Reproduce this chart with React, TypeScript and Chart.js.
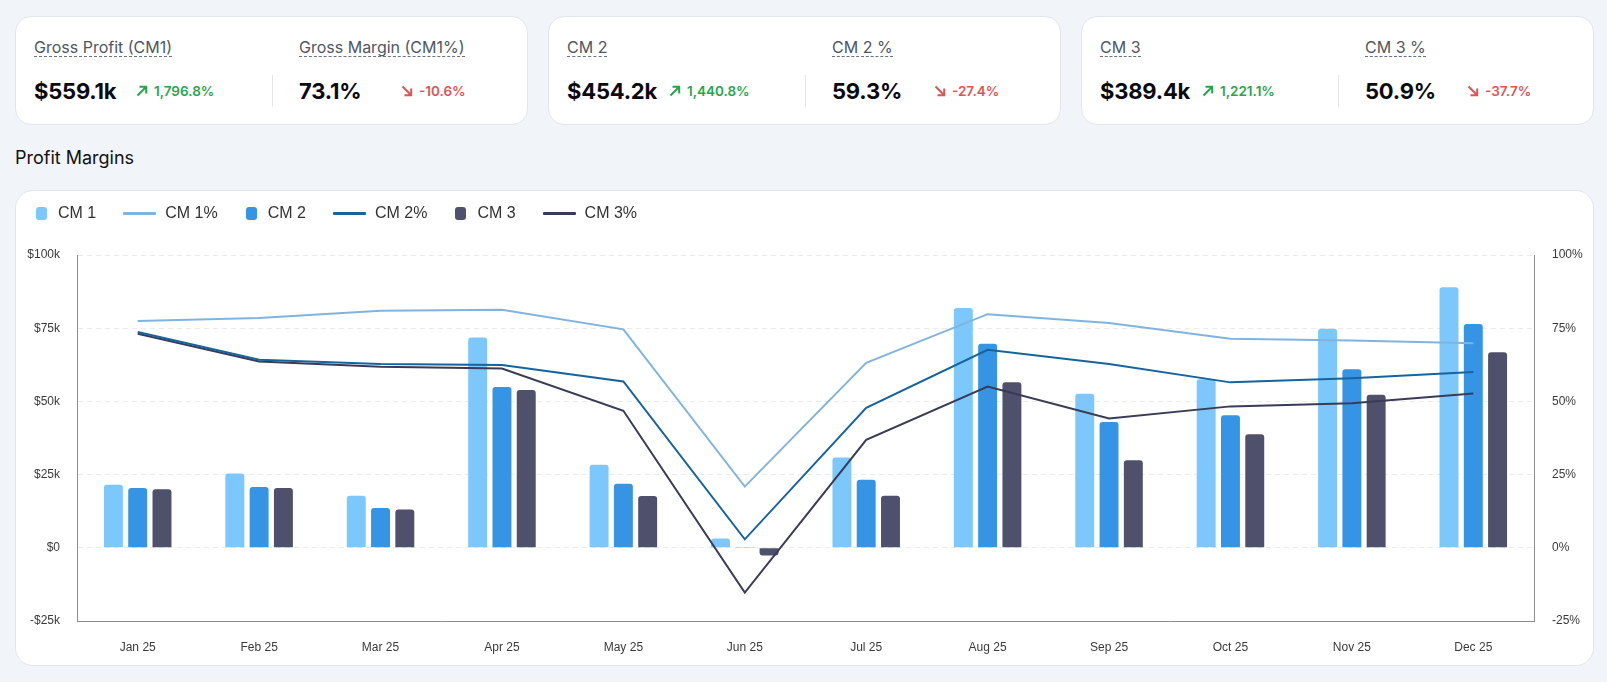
import React, { useEffect, useRef } from "react";
import { Chart, registerables } from "chart.js";

Chart.register(...registerables);

// ---------- data ----------
const months = ["Jan 25", "Feb 25", "Mar 25", "Apr 25", "May 25", "Jun 25", "Jul 25", "Aug 25", "Sep 25", "Oct 25", "Nov 25", "Dec 25"];
const cm1Values = [21500, 25400, 17800, 71800, 28400, 3200, 30800, 81900, 52600, 57600, 74800, 89000];
const cm2Values = [20400, 20800, 13600, 54900, 21900, 300, 23200, 69700, 43000, 45300, 61000, 76400];
const cm3Values = [20000, 20400, 13100, 53900, 17700, -2600, 17800, 56500, 29900, 38800, 52300, 66800];
const cm1Pct = [77.5, 78.5, 81.0, 81.3, 74.6, 20.9, 63.2, 79.8, 76.8, 71.4, 70.8, 69.9];
const cm2Pct = [73.7, 64.2, 62.8, 62.4, 56.8, 2.9, 47.8, 67.6, 62.8, 56.5, 57.9, 60.0];
const cm3Pct = [73.1, 63.6, 61.8, 61.2, 46.8, -15.3, 36.9, 55.1, 44.2, 48.3, 49.4, 52.7];

const seriesNames = ["CM 1", "CM 1%", "CM 2", "CM 2%", "CM 3", "CM 3%"];
const seriesTypes = ["bar", "line", "bar", "line", "bar", "line"];
const seriesColors = ["#7cc7fb", "#80b4de", "#3594e3", "#15639f", "#4f506b", "#393b57"];

const kpiLabels = [
  ["Gross Profit (CM1)", "Gross Margin (CM1%)"],
  ["CM 2", "CM 2 %"],
  ["CM 3", "CM 3 %"],
];
const kpiValues = [
  ["$559.1k", "73.1%"],
  ["$454.2k", "59.3%"],
  ["$389.4k", "50.9%"],
];
const kpiChanges = [
  ["1,796.8%", "-10.6%"],
  ["1,440.8%", "-27.4%"],
  ["1,221.1%", "-37.7%"],
];
const kpiUp = [
  [true, false],
  [true, false],
  [true, false],
];

const leftTicks = (v: number) => (v < 0 ? "-$" + Math.abs(v) / 1000 + "k" : v === 0 ? "$0" : "$" + v / 1000 + "k");
const rightTicks = (v: number) => v + "%";

const AXIS_FONT = "'Liberation Sans', Arial, Helvetica, sans-serif";
const UI_FONT = "Inter, 'Noto Sans', sans-serif";

function Arrow({ up }: { up: boolean }) {
  const color = up ? "#25a64a" : "#e05353";
  return (
    <svg width="12" height="12" viewBox="0 0 12 12" style={{ display: "block", flex: "none" }}>
      {up ? (
        <path d="M1.5 10.5 L10 2 M3.5 1.8 H10.2 V8.5" stroke={color} strokeWidth="2" fill="none" />
      ) : (
        <path d="M1.5 1.5 L10 10 M10.2 3.5 V10.2 H3.5" stroke={color} strokeWidth="2" fill="none" />
      )}
    </svg>
  );
}

function Metric({ label, value, change, up, second }: { label: string; value: string; change: string; up: boolean; second: boolean }) {
  return (
    <div style={{ width: second ? undefined : 238, flex: second ? 1 : "none", paddingLeft: second ? 27 : 0, boxSizing: "border-box" }}>
      <div style={{ height: 38 }}>
        <span
          style={{
            display: "inline-block",
            fontSize: 16,
            lineHeight: "18px",
            color: "#4f5663",
            borderBottom: "1.5px dashed #6b7280",
            paddingBottom: 0,
          }}
        >
          {label}
        </span>
      </div>
      <div style={{ position: "relative", height: 32, display: "flex", alignItems: "center" }}>
        {second && <div style={{ position: "absolute", left: -27, top: 0, width: 1, height: 32, background: "#e4e6ea" }} />}
        <div style={{ minWidth: 92, fontSize: 22, fontWeight: 700, color: "#0b0b0f", letterSpacing: -0.2 }}>{value}</div>
        <div style={{ marginLeft: 10, display: "flex", alignItems: "center", gap: 6 }}>
          <Arrow up={up} />
          <span style={{ fontSize: 13.5, fontWeight: 600, color: up ? "#25a64a" : "#e05353" }}>{change}</span>
        </div>
      </div>
    </div>
  );
}

export default function App() {
  const canvasRef = useRef<HTMLCanvasElement | null>(null);

  useEffect(() => {
    document.body.style.margin = "0";
    document.body.style.background = "#f1f4f8";
    const canvas = canvasRef.current;
    if (!canvas) return;
    const barData = [cm1Values, cm2Values, cm3Values];
    const lineData = [cm1Pct, cm2Pct, cm3Pct];
    const datasets: any[] = seriesNames.map((name, i) => {
      const idx = Math.floor(i / 2);
      if (seriesTypes[i] === "bar") {
        return {
          type: "bar",
          label: name,
          data: barData[idx],
          backgroundColor: seriesColors[i],
          borderRadius: 3,
          yAxisID: "y",
          order: 2,
          categoryPercentage: 0.6,
          barPercentage: 0.78,
        };
      }
      return {
        type: "line",
        label: name,
        data: lineData[idx],
        borderColor: seriesColors[i],
        backgroundColor: seriesColors[i],
        borderWidth: 2,
        pointRadius: 0,
        pointHoverRadius: 0,
        tension: 0,
        yAxisID: "y1",
        order: 1,
      };
    });

    const chart = new Chart(canvas, {
      type: "bar",
      data: { labels: months, datasets },
      options: {
        animation: false,
        responsive: true,
        maintainAspectRatio: false,
        layout: { padding: { top: 64, left: 10, right: 10, bottom: 0 } },
        plugins: { legend: { display: false }, tooltip: { enabled: false } },
        scales: {
          x: {
            grid: { display: false, drawTicks: false },
            border: { display: true, color: "#8d8d8d", width: 1 },
            ticks: { color: "#3a3a3a", font: { size: 12, family: AXIS_FONT }, padding: 19 },
            afterFit: (s: any) => {
              s.height = 44;
            },
          },
          y: {
            position: "left",
            min: -25000,
            max: 100000,
            ticks: { stepSize: 25000, callback: (v: any) => leftTicks(Number(v)), color: "#3a3a3a", font: { size: 12, family: AXIS_FONT }, padding: 17 },
            grid: { color: "#e9ebef", drawTicks: false, lineWidth: 1 },
            border: { display: true, color: "#8d8d8d", width: 1, dash: [5, 4] },
            afterFit: (s: any) => {
              s.width = 51;
            },
          },
          y1: {
            position: "right",
            min: -25,
            max: 100,
            ticks: { stepSize: 25, callback: (v: any) => rightTicks(Number(v)), color: "#3a3a3a", font: { size: 12, family: AXIS_FONT }, padding: 18 },
            grid: { drawOnChartArea: false, drawTicks: false },
            border: { display: true, color: "#8d8d8d", width: 1 },
            afterFit: (s: any) => {
              s.width = 49;
            },
          },
        },
      } as any,
    });
    return () => chart.destroy();
  }, []);

  return (
    <div style={{ padding: "16px 13px 0 15px", fontFamily: UI_FONT, color: "#111" }}>
      <div style={{ display: "flex", gap: 20 }}>
        {kpiLabels.map((pair, c) => (
          <div
            key={c}
            style={{
              width: 513,
              height: 109,
              boxSizing: "border-box",
              background: "#fff",
              border: "1px solid #e2e5ea",
              borderRadius: 16,
              padding: "20px 18px 0 18px",
              display: "flex",
            }}
          >
            {pair.map((label, k) => (
              <Metric key={k} label={label} value={kpiValues[c][k]} change={kpiChanges[c][k]} up={kpiUp[c][k]} second={k === 1} />
            ))}
          </div>
        ))}
      </div>
      <div style={{ height: 65, display: "flex", alignItems: "center", fontSize: 18, fontWeight: 400, color: "#111", letterSpacing: 0 }}>
        Profit Margins
      </div>
      <div
        style={{
          position: "relative",
          width: 1579,
          height: 476,
          boxSizing: "border-box",
          background: "#fff",
          border: "1px solid #e2e5ea",
          borderRadius: 18,
        }}
      >
        <div style={{ position: "absolute", left: 0, top: 0, right: 0, bottom: 0 }}>
          <canvas ref={canvasRef} />
        </div>
        <div
          style={{
            position: "absolute",
            left: 20,
            top: 13,
            height: 18,
            display: "flex",
            alignItems: "center",
            fontFamily: AXIS_FONT,
            fontSize: 16,
            color: "#333",
          }}
        >
          {seriesNames.map((name, i) => (
            <div key={name} style={{ display: "flex", alignItems: "center", marginRight: i % 2 === 0 ? 27 : 28 }}>
              {seriesTypes[i] === "bar" ? (
                <div style={{ width: 11, height: 13, borderRadius: 3, background: seriesColors[i], marginRight: 11 }} />
              ) : (
                <div style={{ width: 33, height: 3, borderRadius: 1, background: seriesColors[i], marginRight: 9 }} />
              )}
              <span>{name}</span>
            </div>
          ))}
        </div>
      </div>
    </div>
  );
}
